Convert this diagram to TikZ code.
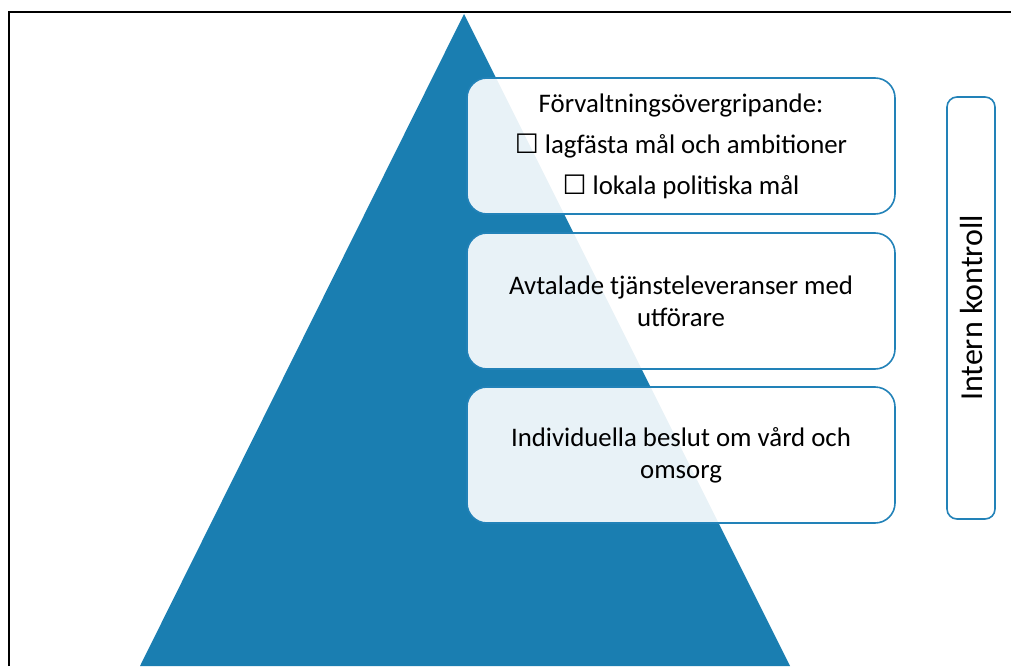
\documentclass[tikz,border=0pt]{standalone}
\usepackage{fontspec}
\setmainfont{Carlito}
\newfontfamily\symfont{DejaVu Sans}
\newcommand{\ballot}{{\symfont\char"2610}}
\definecolor{pyr}{HTML}{1A7EB1}
\definecolor{edge}{HTML}{2282B8}
\begin{document}
\begin{tikzpicture}[x=1pt,y=-1pt,
  lvlbox/.style={draw=edge, line width=1.6pt, fill=white, fill opacity=0.9, text opacity=1,
    rounded corners=20pt, minimum width=428pt, minimum height=136pt, align=center, inner sep=0pt},
  sidebox/.style={draw=edge, line width=1.6pt, fill=white, rounded corners=10pt,
    minimum width=422pt, minimum height=48pt, rotate=90, inner sep=0pt,
    font=\fontsize{32}{36}\selectfont}]
\useasboundingbox (0,0) rectangle (1011,666);
\draw[line width=2pt] (9,666) -- (9,12) -- (1011,12);
\fill[pyr] (464,14) -- (790,666) -- (140,666) -- cycle;
\node[lvlbox, font=\fontsize{26.8}{41}\selectfont] (b1) at (681,146)
  {Förvaltningsövergripande:\\ \ballot{} lagfästa mål och ambitioner\\ \ballot{} lokala politiska mål};
\node[lvlbox, font=\fontsize{26.8}{32}\selectfont] (b2) at (681,301)
  {Avtalade tjänsteleveranser med\\ utförare};
\node[lvlbox, font=\fontsize{26.8}{32}\selectfont] (b3) at (681,455)
  {Individuella beslut om vård och\\ omsorg};
\node[sidebox] (ik) at (971,308) {Intern kontroll};
\end{tikzpicture}
\end{document}
